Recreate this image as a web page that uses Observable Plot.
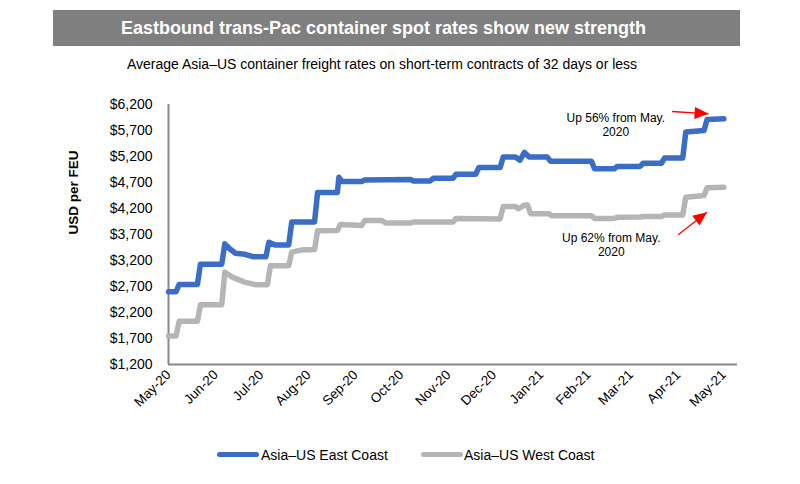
<!DOCTYPE html>
<html><head><meta charset="utf-8">
<script src="https://cdn.jsdelivr.net/npm/d3@7"></script>
<script src="https://cdn.jsdelivr.net/npm/@observablehq/plot@0.6"></script>
<style>
body{margin:0;background:#fff;font-family:Arial,"Liberation Sans",sans-serif;color:#000;}
#wrap{position:relative;width:800px;height:484px;overflow:hidden;}
#title{position:absolute;left:53px;top:10px;width:661px;padding-right:26px;height:36px;background:#7f7f7f;color:#fff;font-weight:bold;font-size:18px;line-height:36px;text-align:center;}
#subtitle{position:absolute;left:0;width:764px;top:56px;text-align:center;font-size:14px;line-height:17px;}
#chart{position:absolute;left:0;top:80px;}
.lg{position:absolute;top:446px;font-size:14px;line-height:18px;white-space:nowrap;}
.sw{position:absolute;height:5px;border-radius:3px;top:452px;}
</style>
</head><body>
<div id="wrap">
  <div id="title">Eastbound trans-Pac container spot rates show new strength</div>
  <div id="subtitle">Average Asia–US container freight rates on short-term contracts of 32 days or less</div>
  <div id="chart"></div>
  <div class="sw" style="left:217px;width:42px;background:#3a6dc5"></div>
  <div class="lg" style="left:261px">Asia–US East Coast</div>
  <div class="sw" style="left:421px;width:42px;background:#b5b5b7"></div>
  <div class="lg" style="left:464px">Asia–US West Coast</div>
</div>
<script>
// ---- data ----
const eastDates = ["2020-05-01","2020-05-06","2020-05-08","2020-05-20","2020-05-22","2020-06-05","2020-06-07","2020-06-10","2020-06-14","2020-06-20","2020-06-26","2020-07-04","2020-07-06","2020-07-10","2020-07-19","2020-07-21","2020-08-05","2020-08-07","2020-08-20","2020-08-21","2020-08-23","2020-09-05","2020-09-07","2020-10-07","2020-10-09","2020-10-20","2020-10-22","2020-11-04","2020-11-06","2020-11-19","2020-11-21","2020-12-05","2020-12-07","2020-12-15","2020-12-18","2020-12-21","2020-12-24","2021-01-05","2021-01-07","2021-02-03","2021-02-05","2021-02-18","2021-02-20","2021-03-07","2021-03-09","2021-03-21","2021-03-23","2021-04-04","2021-04-06","2021-04-18","2021-04-20","2021-05-01"];
const eastValues = [2600,2600,2740,2740,3130,3130,3520,3430,3340,3320,3270,3270,3550,3500,3500,3940,3940,4510,4510,4800,4720,4720,4750,4760,4730,4730,4780,4780,4860,4860,4990,4990,5190,5190,5130,5280,5190,5190,5110,5110,4965,4965,5010,5010,5070,5070,5170,5170,5670,5700,5910,5925];

const westDates = ["2020-05-01","2020-05-06","2020-05-08","2020-05-20","2020-05-22","2020-06-05","2020-06-07","2020-06-12","2020-06-20","2020-06-27","2020-07-05","2020-07-07","2020-07-19","2020-07-21","2020-07-27","2020-08-05","2020-08-07","2020-08-20","2020-08-22","2020-09-05","2020-09-07","2020-09-18","2020-09-21","2020-10-07","2020-10-09","2020-11-04","2020-11-06","2020-12-05","2020-12-07","2020-12-15","2020-12-17","2020-12-21","2020-12-23","2020-12-25","2021-01-06","2021-01-08","2021-02-03","2021-02-05","2021-02-18","2021-02-20","2021-03-07","2021-03-09","2021-03-21","2021-03-23","2021-04-04","2021-04-06","2021-04-18","2021-04-20","2021-05-01"];
const westValues = [1750,1750,2030,2030,2350,2350,2975,2880,2785,2735,2735,3100,3100,3360,3400,3410,3770,3775,3890,3875,3970,3970,3920,3920,3940,3940,4010,4000,4240,4240,4195,4265,4265,4100,4100,4060,4060,4010,4010,4030,4035,4045,4045,4075,4075,4415,4450,4600,4610];

const yTicks = [1200,1700,2200,2700,3200,3700,4200,4700,5200,5700,6200];
const xTicks = ["2020-05-01","2020-06-01","2020-07-01","2020-08-01","2020-09-01","2020-10-01","2020-11-01","2020-12-01","2021-01-01","2021-02-01","2021-03-01","2021-04-01","2021-05-01"];
const xDomain = ["2020-05-01","2021-05-10"];
const yDomain = [1200,6200];

const annoTexts = ["Up 56% from May.\n2020","Up 62% from May.\n2020"];
const annoDates = ["2021-02-19","2021-02-16"];
const annoValues = [5815,3508];

const arrowFromDates = ["2021-03-28","2021-04-01"];
const arrowFromValues = [6065,3694];
const arrowToDates = ["2021-04-21","2021-04-20"];
const arrowToValues = [6021,4129];
const arrowAngles = [93.6,53];

// ---- build ----
const east = eastDates.map((d,i)=>({date:new Date(d), value:eastValues[i]}));
const west = westDates.map((d,i)=>({date:new Date(d), value:westValues[i]}));
const annos = annoTexts.map((t,i)=>({text:t, date:new Date(annoDates[i]), value:annoValues[i]}));
const arrows = arrowFromDates.map((d,i)=>({x1:new Date(d), y1:arrowFromValues[i], x2:new Date(arrowToDates[i]), y2:arrowToValues[i], rot:arrowAngles[i]}));
const x0 = new Date(xDomain[0]);

const chart = Plot.plot({
  width: 800, height: 350,
  marginLeft: 168, marginRight: 63, marginTop: 24, marginBottom: 66,
  style: {fontFamily: "Arial, 'Liberation Sans', sans-serif", fontSize: "13px", color: "#000", background: "transparent"},
  x: {type: "utc", domain: xDomain.map(d=>new Date(d))},
  y: {domain: yDomain},
  marks: [
    Plot.axisY({ticks: yTicks, tickSize: 0, tickPadding: 16, tickFormat: d => "$" + d3.format(",")(d), fontSize: 14, label: null}),
    Plot.axisX({ticks: xTicks.map(d=>new Date(d)), tickSize: 0, tickPadding: 8, tickRotate: -45, tickFormat: d3.utcFormat("%b-%y"), fontSize: 13.5, label: null}),
    Plot.text(["USD per FEU"], {frameAnchor: "left", rotate: -90, dx: -95, fontWeight: "bold", fontSize: 13.5}),
    Plot.ruleY([yDomain[0]], {stroke: "#888", strokeWidth: 2}),
    Plot.ruleX([x0], {stroke: "#888", strokeWidth: 2}),
    Plot.line(west, {x: "date", y: "value", stroke: "#b5b5b7", strokeWidth: 5.5}),
    Plot.line(east, {x: "date", y: "value", stroke: "#3a6dc5", strokeWidth: 5.5}),
    Plot.text(annos, {x: "date", y: "value", text: "text", fontSize: 12, lineHeight: 1.2, fill: "#000"}),
    Plot.link(arrows, {x1: "x1", y1: "y1", x2: "x2", y2: "y2", stroke: "red", strokeWidth: 1.3}),
    Plot.vector(arrows, {x: "x2", y: "y2", rotate: "rot", length: 14, r: 6, shape: "spike", anchor: "end", fill: "red", stroke: "none"})
  ]
});
document.getElementById("chart").appendChild(chart);
</script>
</body></html>
